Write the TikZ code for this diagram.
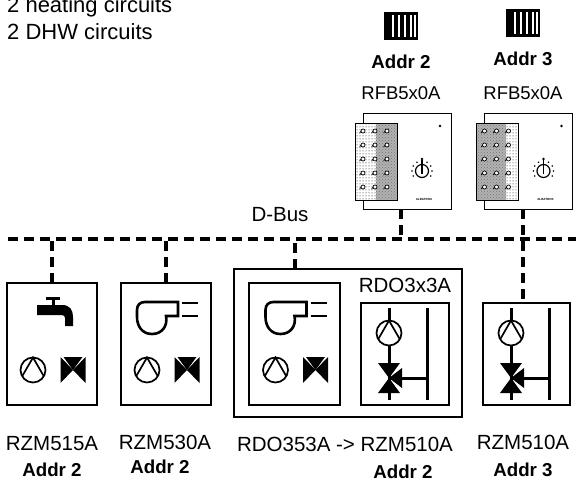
\documentclass[tikz,border=0pt]{standalone}
\usepackage{fontspec}
\setmainfont{Liberation Sans}
\usetikzlibrary{patterns}

% symbols, all drawn around a given point (units are pixels, y grows downwards)
\newcommand\pumpsym[2]{%
  \begin{scope}[shift={(#1,#2)}]
    \draw[line width=1.7pt,fill=white] (0,0) circle (12.5);
    \draw[line width=1.7pt] (-10.8,6.2) -- (0,-12.5) -- (10.8,6.2);
  \end{scope}}
\newcommand\valvesym[2]{%
  \begin{scope}[shift={(#1,#2)}]
    \fill (-12.5,-13) -- (0,0) -- (-12.5,13) -- cycle;
    \fill (12.5,-13) -- (0,0) -- (12.5,13) -- cycle;
    \fill (-9.5,-13) -- (9.5,-13) -- (0,0) -- cycle;
  \end{scope}}
\newcommand\mixvalvesym[2]{%
  \begin{scope}[shift={(#1,#2)}]
    \fill (-11,-15) -- (11,-15) -- (0,0) -- cycle;
    \fill (-11,15) -- (11,15) -- (0,0) -- cycle;
    \fill (13,-10) -- (13,10) -- (0,0) -- cycle;
  \end{scope}}
\newcommand\tapsym[2]{%
  \begin{scope}[shift={(#1,#2)}]
    \fill (-6,0) rectangle (8,3);
    \fill (0,3) rectangle (3,8);
    \fill (-15,8) -- (10,8) .. controls (18,8) and (21,13) .. (21,20)
      -- (21,29) -- (13,29) -- (13,21) .. controls (13,19) and (12,18) .. (9,18)
      -- (-15,18) -- cycle;
  \end{scope}}
\newcommand\boilersym[2]{%
  \begin{scope}[shift={(#1,#2)},line width=2.6pt]
    \draw (-21,0) -- (12,0) -- (12,14) -- (0,14)
      .. controls (2,24) and (-4,32) .. (-14,32)
      .. controls (-24,32) and (-29,24) .. (-29,15) -- (-29,8)
      .. controls (-29,3) and (-26,0) .. (-21,0) -- cycle;
    \draw (16,1) -- (32,1) (16,14) -- (32,14);
  \end{scope}}
\newcommand\radiatorsym[2]{%
  \begin{scope}[shift={(#1,#2)}]
    \fill (-17,-14) rectangle (17,14);
    \foreach \x in {-8,-2,4,10}
      \fill[white] (\x-1.4,-11) rectangle (\x+1.4,11);
    \fill[white] (13,-11) rectangle (14.5,11);
  \end{scope}}
% mixing circuit: pump and valve on the flow, return line on the right
\newcommand\mixunit[2]{%
  \begin{scope}[shift={(#1,#2)},line width=3pt]
    \draw (28,5) -- (28,97);
    \draw (66,5) -- (66,97);
    \draw (28,75) -- (66,75);
  \end{scope}
  \pumpsym{#1+28}{#2+30}
  \mixvalvesym{#1+28}{#2+75}}
% front of the room unit
\newcommand\roomface[3]{%
  \begin{scope}[shift={(#1,#2)}]
    \fill[white] (-52,-38) rectangle (-10,39);
    \ifnum#3=0
      \fill[pattern=dots] (-52,-38) rectangle (-31,39);
      \fill[black!30] (-31,-38) rectangle (-10,39);
      \fill[pattern=crosshatch dots,pattern color=black!55] (-31,-38) rectangle (-10,39);
    \else
      \fill[black!30] (-52,-38) rectangle (-23,39);
      \fill[pattern=crosshatch dots,pattern color=black!55] (-52,-38) rectangle (-23,39);
      \fill[pattern=dots] (-23,-38) rectangle (-10,39);
    \fi
    \draw[line width=0.8pt] (-52,-38) rectangle (-10,39);
    \foreach \cx in {-44,-32,-20}
      \foreach \cy in {-30,-16,-2,12,26}
        \draw[line width=0.7pt,fill=white] (\cx,\cy) circle (2) (\cx-2,\cy) -- (\cx-3.4,\cy+2.2);
    \fill (33,-35) circle (1.3);
    % setpoint knob
    \draw[line width=1.2pt] (15,10) circle (6.5);
    \draw[line width=1.6pt] (15,13) -- (15,-1);
    \fill (15,-2) circle (1.4);
    \foreach \a in {0,30,60,120,150,180,210,330}
      \fill ({15+10*cos(\a)},{10-10*sin(\a)}) circle (0.9);
    \node[font=\bfseries\fontsize{3}{3}\selectfont,inner sep=0] at (17,38) {ALBATROS};
  \end{scope}}

\tikzset{
  bus/.style={line width=4pt,dash pattern=on 10pt off 6pt},
  lbl/.style={font=\fontsize{20.5}{24}\selectfont,inner sep=0},
  rfbtype/.style={font=\fontsize{18.5}{22}\selectfont,inner sep=0},
  addr/.style={font=\bfseries\fontsize{18.7}{22}\selectfont,inner sep=0},
  unit/.style={draw,line width=1.3pt,inner sep=0,outer sep=0},
  rfb/.style={draw,line width=0.8pt,inner sep=0,outer sep=0,minimum width=88,minimum height=96},
}

\begin{document}
\begin{tikzpicture}[x=1pt,y=-1pt]
\useasboundingbox (0,0) rectangle (576,487);

\node[anchor=base west,align=left,inner sep=0,font=\fontsize{22}{27}\selectfont] (title) at (7,40)
  {2 heating circuits\\2 DHW circuits};

% room units
\radiatorsym{401}{26}
\radiatorsym{523}{23}
\node[addr] (addrL) at (401,62) {Addr 2};
\node[addr] (addrR) at (523,59) {Addr 3};
\node[rfbtype] (typeL) at (401,93) {RFB5x0A};
\node[rfbtype] (typeR) at (523,93) {RFB5x0A};
\node[rfb] (rfbL) at (407,161) {};
\node[rfb] (rfbR) at (528.5,161) {};
\roomface{407}{161}{0}
\roomface{528.5}{161}{1}

% bus
\coordinate (bus-w) at (8,239);
\coordinate (bus-e) at (576,239);
\draw[bus] (bus-w) -- (bus-e);
\node[lbl] (dbus) at (280,215) {D-Bus};

% controllers
\node[unit,minimum width=90,minimum height=122] (rzm515) at (52,344) {};
\node[unit,minimum width=90,minimum height=122] (rzm530) at (166,344) {};
\node[unit,line width=2pt,minimum width=228,minimum height=148] (rdo) at (348,343) {};
\node[unit,minimum width=91,minimum height=122] (rdo-hc) at (294.5,344) {};
\node[unit,minimum width=88,minimum height=102] (rdo-mix) at (405,354) {};
\node[unit,minimum width=87,minimum height=102] (rzm510) at (526.5,354) {};
\node[lbl] (rdo-type) at (405,285) {RDO3x3A};

\tapsym{52}{297}
\pumpsym{33}{370}
\valvesym{73}{370}
\boilersym{166}{302}
\pumpsym{147}{370}
\valvesym{187}{370}
\boilersym{294.5}{302}
\pumpsym{275.5}{370}
\valvesym{315.5}{370}
\mixunit{361}{303}
\mixunit{483}{303}

% bus drops
\draw[bus] (rzm515.north) -- (rzm515.north |- bus-w);
\draw[bus] (rzm530.north) -- (rzm530.north |- bus-w);
\draw[bus] (rdo.north -| rdo-hc.north) -- (rdo-hc.north |- bus-w);
\draw[bus] (rfbL.south -| addrL) -- (addrL |- bus-w);
\draw[bus] (rfbR.south -| addrR) -- (rzm510.north -| addrR);

% names and addresses
\node[lbl] (t515) at (52,444) {RZM515A};
\node[lbl] (t530) at (165,442) {RZM530A};
\node[lbl] (t353) at (345,444) {RDO353A -> RZM510A};
\node[lbl] (t510) at (523,442) {RZM510A};
\node[addr] (a515) at (52,470) {Addr 2};
\node[addr] (a530) at (160,467) {Addr 2};
\node[addr] (a353) at (403,472) {Addr 2};
\node[addr] (a510) at (523,470) {Addr 3};
\end{tikzpicture}
\end{document}
